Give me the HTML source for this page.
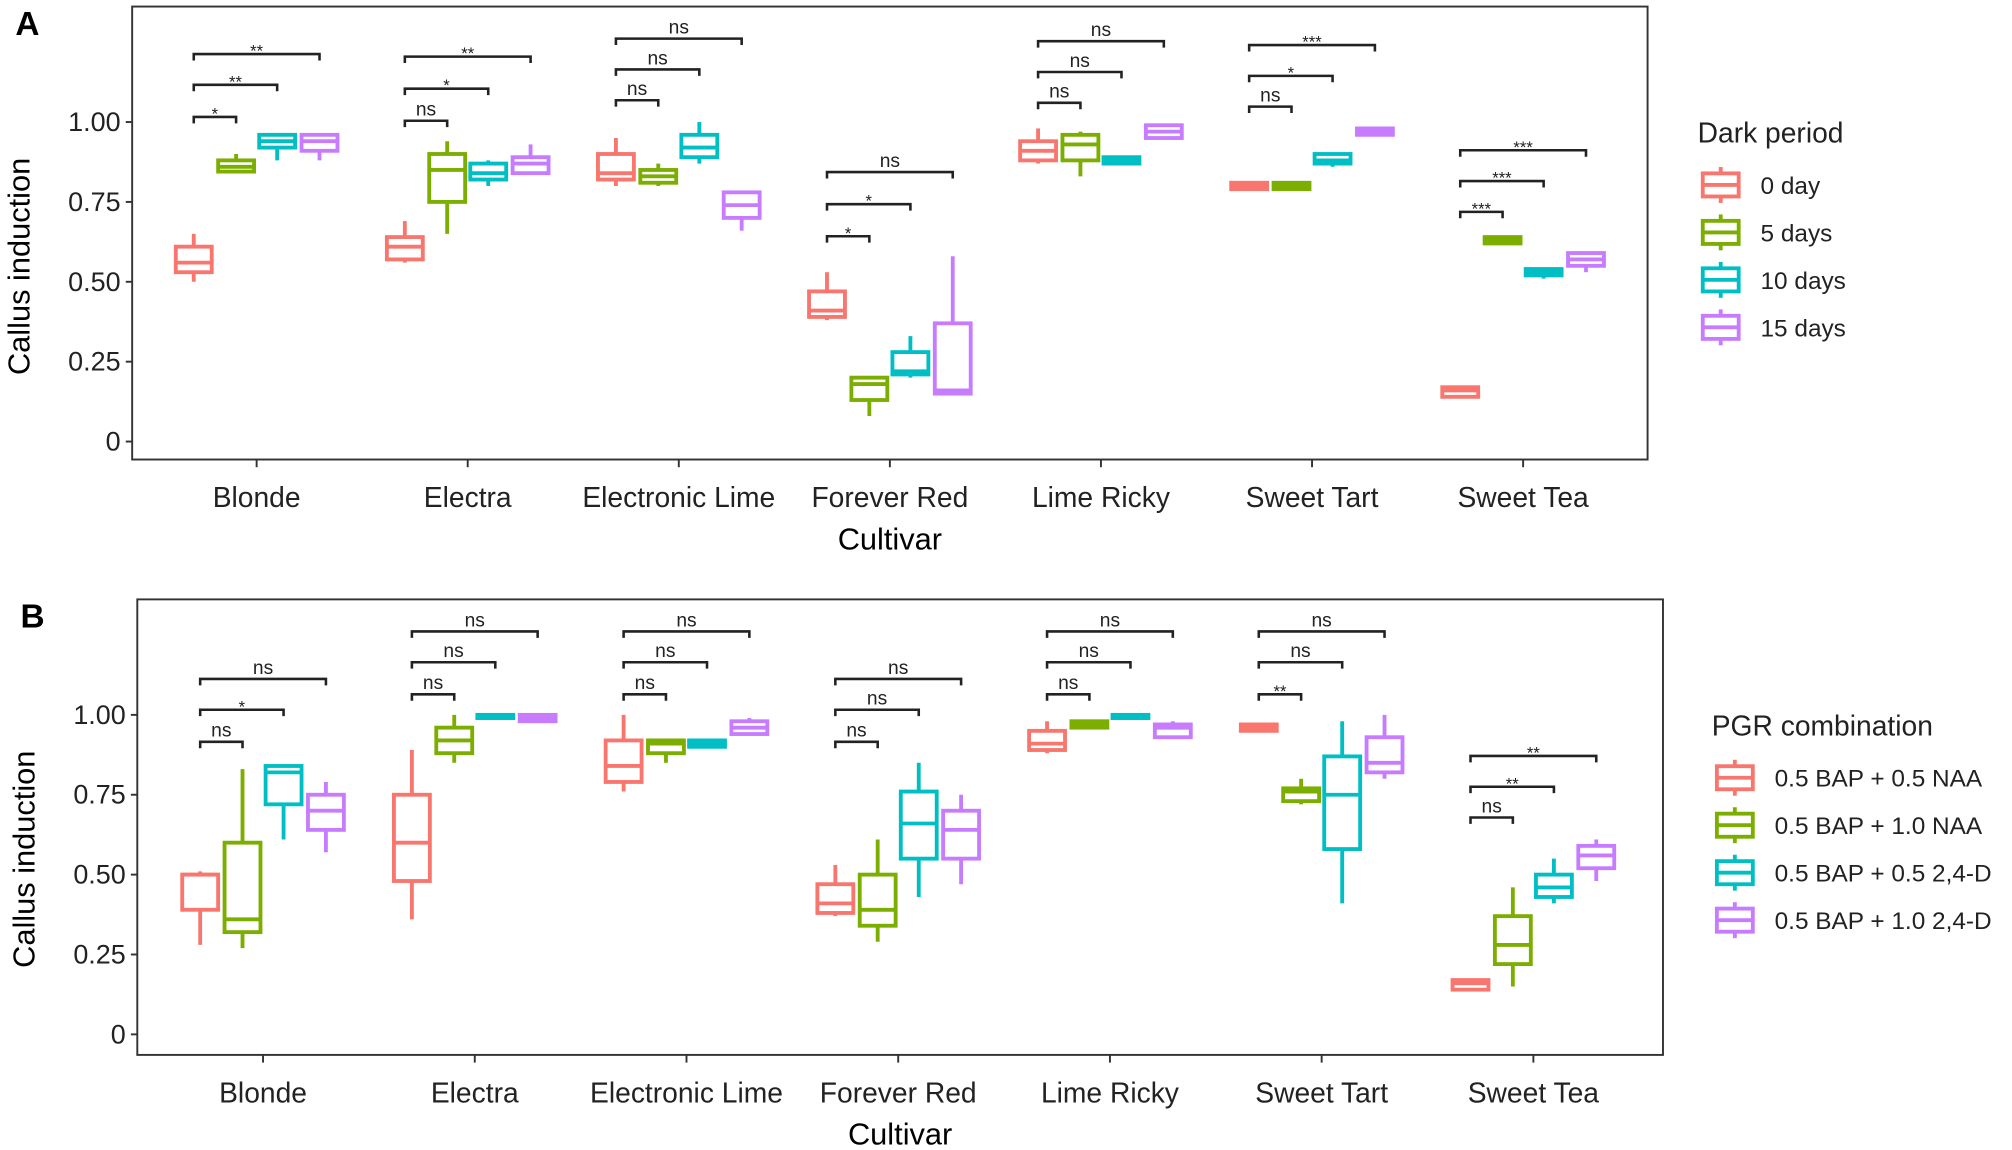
<!DOCTYPE html>
<html><head><meta charset="utf-8"><style>
html,body{margin:0;padding:0;background:#fff}
svg{display:block}
text{font-family:"Liberation Sans",Arial,sans-serif;fill:#222}
</style></head><body>
<svg id="s" width="2012" height="1150" viewBox="0 0 1568 896" xmlns="http://www.w3.org/2000/svg"></svg>
<script>
const C=["#F8766D","#7CAE00","#00BFC4","#C77CFF"];
const cult=["Blonde","Electra","Electronic Lime","Forever Red","Lime Ricky","Sweet Tart","Sweet Tea"];
let o="";
function panel(P){
 const {L,T,R,B,y1,y0,x0,dx,data,br,label,leg}=P;
 const Y=v=>y0-(y0-y1)*v;
 o+=`<rect x="${L}" y="${T}" width="${R-L}" height="${B-T}" fill="none" stroke="#333" stroke-width="1.5"/>`;
 o+=`<text x="${L-91}" y="${T+22}" style="font-size:26px;font-weight:bold;fill:#000">${label}</text>`;
 [[0,"0"],[.25,"0.25"],[.5,"0.50"],[.75,"0.75"],[1,"1.00"]].forEach(([v,t])=>{
  o+=`<line x1="${L-5}" x2="${L}" y1="${Y(v)}" y2="${Y(v)}" stroke="#333" stroke-width="1.5"/>`;
  o+=`<text x="${L-9}" y="${Y(v)+7}" text-anchor="end" style="font-size:21px">${t}</text>`;});
 o+=`<text transform="translate(${L-80},${(y0+y1)/2-12}) rotate(-90)" text-anchor="middle" style="font-size:24px;fill:#000">Callus induction</text>`;
 cult.forEach((c,i)=>{const x=x0+dx*i;
  o+=`<line x1="${x}" x2="${x}" y1="${B}" y2="${B+6}" stroke="#333" stroke-width="1.5"/>`;
  o+=`<text x="${x}" y="${B+37}" text-anchor="middle" style="font-size:22px">${c}</text>`;
  data[i].forEach((d,k)=>{const bx=x+[-49,-16,16,49][k],w=28;
   o+=`<g stroke="${C[k]}" stroke-width="3" fill="#fff"><line x1="${bx}" x2="${bx}" y1="${Y(d[0])}" y2="${Y(d[4])}"/><rect x="${bx-w/2}" y="${Y(d[3])}" width="${w}" height="${Math.max(Y(d[1])-Y(d[3]),1)}"/><line x1="${bx-w/2}" x2="${bx+w/2}" y1="${Y(d[2])}" y2="${Y(d[2])}"/></g>`;});
  br[i][0].forEach((yy,k)=>{const a=x-49,b=x+[-16,16,49][k];
   o+=`<path d="M${a} ${yy+5}V${yy}H${b}V${yy+5}" fill="none" stroke="#222" stroke-width="2"/>`;
   const t=br[i][1][k];o+=`<text x="${(a+b)/2}" y="${yy-(t=="ns"?4:-2)}" text-anchor="middle" style="font-size:${t=="ns"?15:13}px">${t}</text>`;});
 });
 o+=`<text x="${(L+R)/2}" y="${B+70}" text-anchor="middle" style="font-size:24px;fill:#000">Cultivar</text>`;
 o+=`<text x="${leg.x}" y="${leg.y}" style="font-size:22px">${leg.t}</text>`;
 leg.l.forEach((t,k)=>{const yy=leg.y+33+k*37,lx=leg.x+4;
  o+=`<g stroke="${C[k]}" stroke-width="3" fill="#fff"><line x1="${lx+14}" x2="${lx+14}" y1="${yy-14}" y2="${yy+14}"/><rect x="${lx}" y="${yy-9}" width="28" height="18"/><line x1="${lx}" x2="${lx+28}" y1="${yy}" y2="${yy}"/></g>`;
  o+=`<text x="${leg.x+49}" y="${yy+7}" style="font-size:19px">${t}</text>`;});
}
panel({L:103,T:5,R:1284,B:358,y1:95,y0:344,x0:200,dx:164.5,label:"A",
data:[
[[.50,.53,.56,.61,.65],[.84,.845,.86,.88,.90],[.88,.92,.94,.96,.96],[.88,.91,.94,.96,.96]],
[[.56,.57,.61,.64,.69],[.65,.75,.85,.90,.94],[.80,.82,.84,.87,.88],[.84,.84,.87,.89,.93]],
[[.80,.82,.84,.90,.95],[.80,.81,.83,.85,.87],[.87,.89,.92,.96,1.0],[.66,.70,.74,.78,.78]],
[[.38,.39,.41,.47,.53],[.08,.13,.18,.20,.20],[.20,.21,.22,.28,.33],[.15,.15,.16,.37,.58]],
[[.87,.88,.91,.94,.98],[.83,.88,.93,.96,.97],[.87,.87,.88,.89,.89],[.95,.95,.97,.99,.99]],
[[.79,.79,.80,.81,.81],[.79,.79,.80,.81,.81],[.86,.87,.88,.90,.90],[.96,.96,.97,.98,.98]],
[[.14,.14,.16,.17,.17],[.62,.62,.63,.64,.64],[.51,.52,.53,.54,.54],[.53,.55,.57,.59,.59]]],
br:[[[91,66,42],["*","**","**"]],[[94,69,44],["ns","*","**"]],[[78,54,30],["ns","ns","ns"]],[[184,159,134],["*","*","ns"]],[[80,56,32],["ns","ns","ns"]],[[83,59,35],["ns","*","***"]],[[165,141,117],["***","***","***"]]],
leg:{x:1323,y:111,t:"Dark period",l:["0 day","5 days","10 days","15 days"]}});
panel({L:107,T:467,R:1296,B:822,y1:557,y0:806,x0:205,dx:165,label:"B",
data:[
[[.28,.39,.50,.50,.51],[.27,.32,.36,.60,.83],[.61,.72,.82,.84,.84],[.57,.64,.70,.75,.79]],
[[.36,.48,.60,.75,.89],[.85,.88,.92,.96,1.0],[.99,.99,1.0,1.0,1.0],[.98,.98,.99,1.0,1.0]],
[[.76,.79,.84,.92,1.0],[.85,.88,.91,.92,.92],[.90,.90,.91,.92,.92],[.94,.94,.96,.98,.99]],
[[.37,.38,.41,.47,.53],[.29,.34,.39,.50,.61],[.43,.55,.66,.76,.85],[.47,.55,.64,.70,.75]],
[[.88,.89,.91,.95,.98],[.96,.96,.97,.98,.98],[.99,.99,1.0,1.0,1.0],[.93,.93,.96,.97,.98]],
[[.95,.95,.96,.97,.97],[.72,.73,.76,.77,.80],[.41,.58,.75,.87,.98],[.80,.82,.85,.93,1.0]],
[[.14,.14,.16,.17,.17],[.15,.22,.28,.37,.46],[.41,.43,.46,.50,.55],[.48,.52,.56,.59,.61]]],
br:[[[578,553,529],["ns","*","ns"]],[[541,516,492],["ns","ns","ns"]],[[541,516,492],["ns","ns","ns"]],[[578,553,529],["ns","ns","ns"]],[[541,516,492],["ns","ns","ns"]],[[541,516,492],["**","ns","ns"]],[[637,613,589],["ns","**","**"]]],
leg:{x:1334,y:573,t:"PGR combination",l:["0.5 BAP + 0.5 NAA","0.5 BAP + 1.0 NAA","0.5 BAP + 0.5 2,4-D","0.5 BAP + 1.0 2,4-D"]}});
document.getElementById("s").innerHTML=o;
</script>
</body></html>
